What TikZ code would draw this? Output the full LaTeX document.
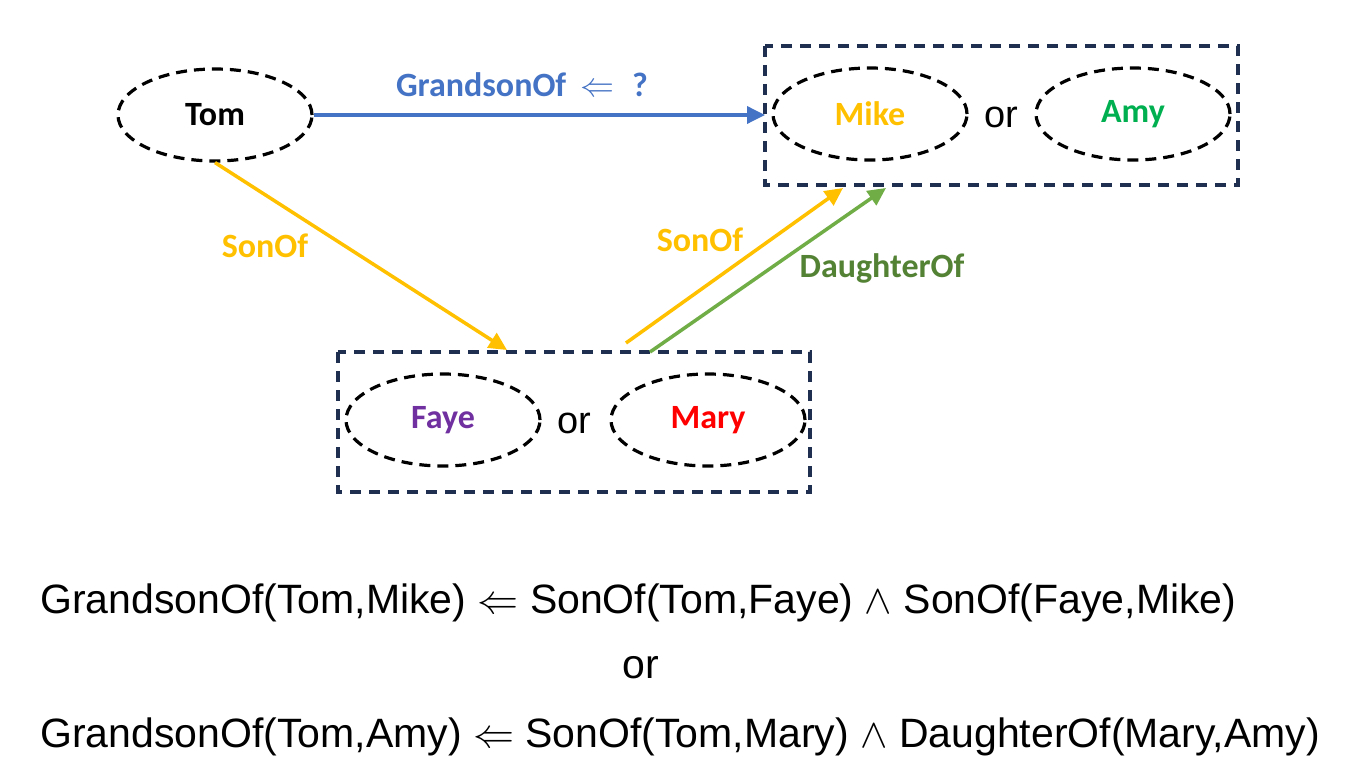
\RequirePackage{fix-cm}
\documentclass[tikz,border=0pt]{standalone}
\usepackage{fontspec}
\setmainfont{Liberation Sans}
\newfontfamily\labfont{Carlito}
\usetikzlibrary{arrows.meta,shapes.geometric}
\definecolor{cblue}{HTML}{4472C4}
\definecolor{cyel}{HTML}{FFC000}
\definecolor{cgreen}{HTML}{70AD47}
\definecolor{cdgreen}{HTML}{548235}
\definecolor{camy}{HTML}{00B050}
\definecolor{cfaye}{HTML}{7030A0}
\definecolor{cmary}{HTML}{FF0000}
\definecolor{cnavy}{HTML}{1F2F4F}
\tikzset{
  ent/.style={ellipse, draw=black, dash pattern=on 11pt off 7pt, line width=3.2pt, minimum width=194pt, minimum height=92pt, inner sep=0pt, font=\labfont\bfseries\fontsize{34}{38}\selectfont},
  grp/.style={draw=cnavy, line width=3.2pt, dash pattern=on 11pt off 8pt},
  lab/.style={font=\labfont\bfseries\fontsize{34}{38}\selectfont},
  ortxt/.style={font=\fontsize{38}{44}\selectfont},
  arr/.style={line width=3.5pt, -{Triangle[length=18pt,width=17pt]}},
  formula/.style={font=\fontsize{41}{48}\selectfont, anchor=west, inner sep=0pt}
}
\begin{document}
\begin{tikzpicture}[x=1pt,y=-1pt]
\useasboundingbox (0,0) rectangle (1351,783);
% groups
\draw[grp] (765,46) rectangle (1238,185);
\draw[grp] (338,352) rectangle (810,492);
\coordinate (topL) at (765,115);
\coordinate (topB1) at (843,188);
\coordinate (topB2) at (886,188);
\coordinate (botT1) at (507,350);
\coordinate (botS1) at (626,343);
\coordinate (botS2) at (650,352);
% entities
\node[ent] (tom) at (215,115) {Tom};
\node[ent, text=cyel] (mike) at (870,114) {Mike};
\node[ortxt] (or1) at (1001,117) {or};
\node[ent, text=camy] (amy) at (1133,114) {Amy};
\node[ent, text=cfaye] (faye) at (443,420) {Faye};
\node[ortxt] (or2) at (574,423) {or};
\node[ent, text=cmary] (mary) at (708,420) {Mary};
% arrows
\draw[arr, cblue] (tom.east) -- (topL);
\node[lab, text=cblue] (gl) at (522,85) {GrandsonOf\hspace{14pt}$\Leftarrow$\hspace{18pt}?};
\draw[arr, cyel] (tom.south) -- (botT1);
\node[lab, text=cyel] (s1) at (265,246) {SonOf};
\draw[arr, cyel] (botS1) -- (topB1);
\node[lab, text=cyel] (s2) at (700,240) {SonOf};
\draw[arr, cgreen] (botS2) -- (topB2);
\node[lab, text=cdgreen] (dl) at (882,268) {DaughterOf};
% formulas
\node[formula] (f1) at (40,603) {GrandsonOf(Tom,Mike) $\Leftarrow$ SonOf(Tom,Faye) $\wedge$ SonOf(Faye,Mike)};
\node[font=\fontsize{41}{48}\selectfont] (f2) at (641,668) {or};
\node[formula] (f3) at (40,737) {GrandsonOf(Tom,Amy) $\Leftarrow$ SonOf(Tom,Mary) $\wedge$ DaughterOf(Mary,Amy)};
\end{tikzpicture}
\end{document}
